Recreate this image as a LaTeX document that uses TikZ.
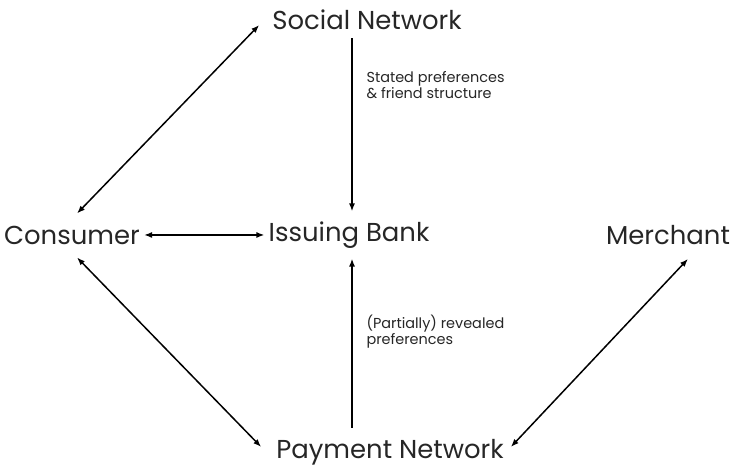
\documentclass[tikz,border=0pt]{standalone}
\usepackage{fontspec}
\setmainfont{Poppins}
\usepackage{tikz}
\usetikzlibrary{calc, positioning, arrows.meta}

\begin{document}
\begin{tikzpicture}[x=1bp, y=1bp, >={Latex[length=8bp,width=6bp]},
    party/.style={font=\fontsize{26}{30}\selectfont, inner sep=4bp, text=black!85},
    info/.style={font=\fontsize{14.5}{16}\selectfont, align=left, anchor=west, text=black!85},
    link/.style={<->, line width=1.5bp}]
    \useasboundingbox (0,0) rectangle (737,470);

    % Parteien
    \node[party] (social)   at (367,450) {Social Network};
    \node[party] (consumer) at (72,235)  {Consumer};
    \node[party] (bank)     at (349,235) {Issuing Bank};
    \node[party] (merchant) at (668,235) {Merchant};
    \node[party] (payment)  at (390,18)  {Payment Network};

    % Verbindungen
    \draw[link] (consumer.east) -- (bank.west);
    \draw[link] ($(consumer.north)+(5,8)$) -- ($(social.west)+(-9,-5)$);
    \draw[link] ($(consumer.south)+(5,-9)$) -- ($(payment.west)+(-11,5)$);
    \draw[link] ($(merchant.south)+(20,-10)$) -- ($(payment.east)+(3,5)$);

    % Informationsfluss zur Bank
    \draw[->, line width=1.5bp] ($(social.south -| bank.north)+(3,-4)$) -- ($(bank.north)+(3,6)$);
    \draw[->, line width=1.5bp] ($(payment.north -| bank.south)+(3,7)$) -- ($(bank.south)+(3,-6)$);
    \node[info] (stated)   at (363,385) {Stated preferences\\\& friend structure};
    \node[info] (revealed) at (363,138) {(Partially) revealed\\preferences};
\end{tikzpicture}
\end{document}
